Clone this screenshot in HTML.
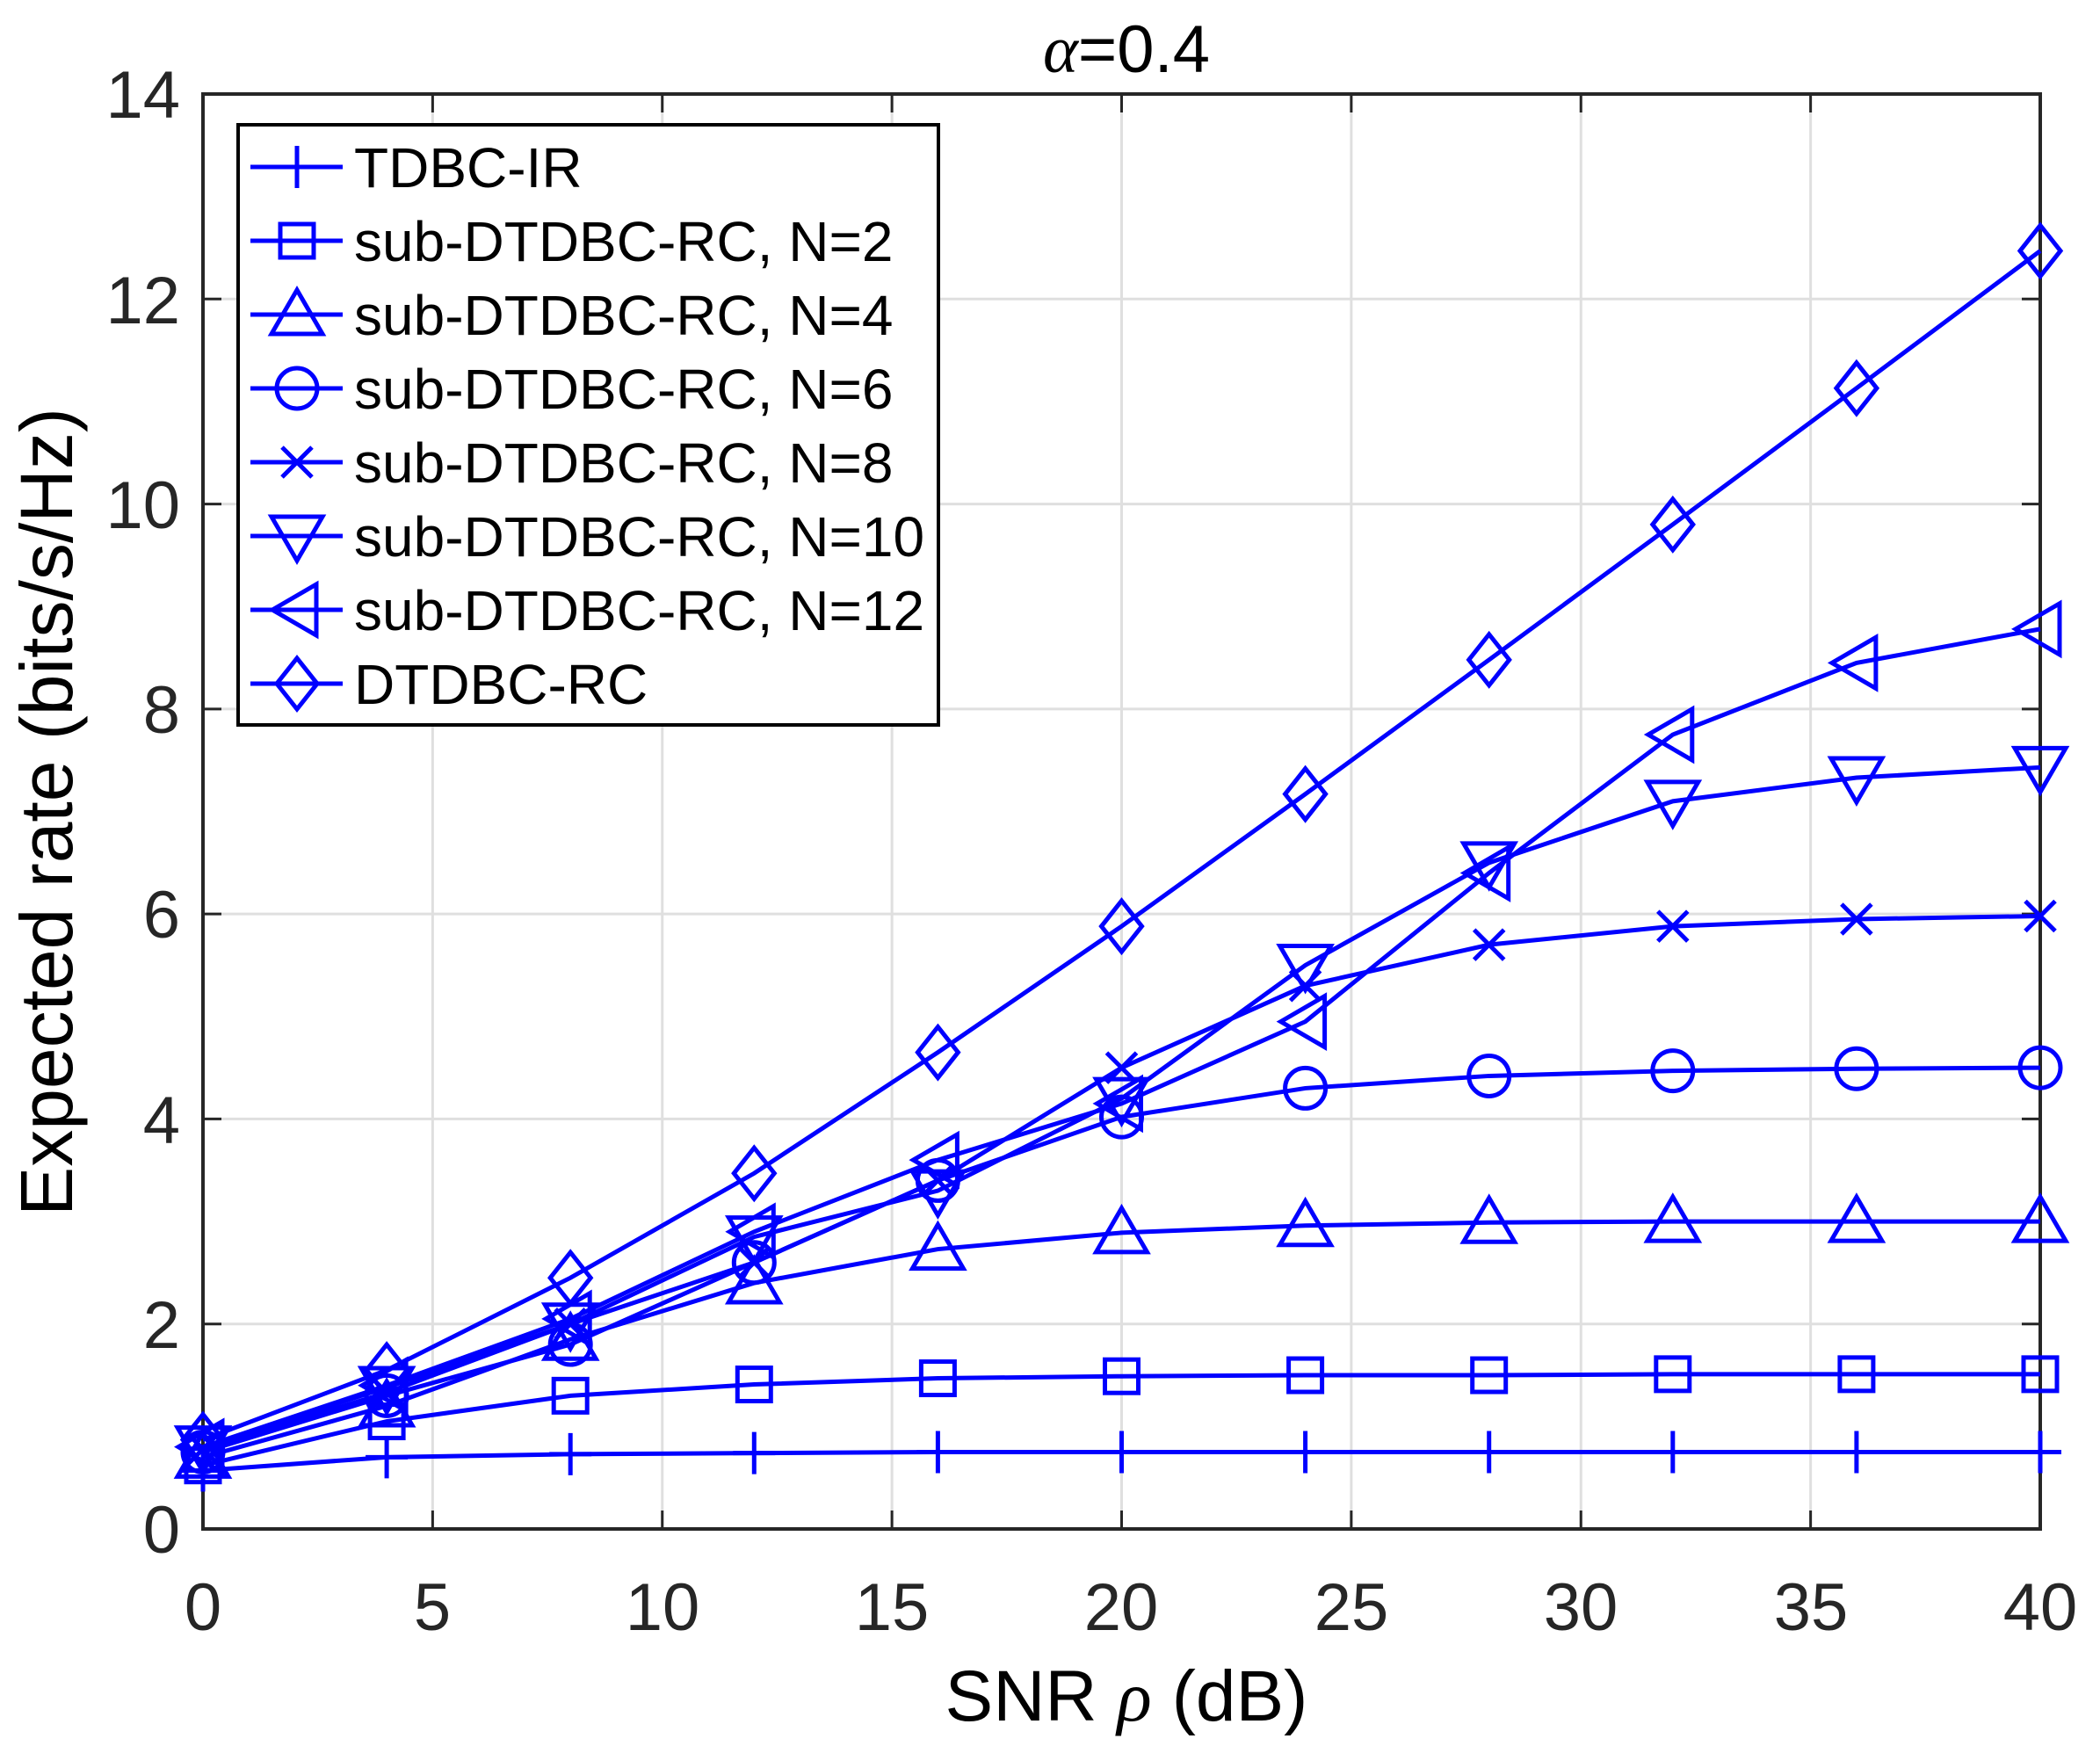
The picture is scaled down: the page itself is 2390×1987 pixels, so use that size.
<!DOCTYPE html>
<html><head><meta charset="utf-8"><style>
html,body{margin:0;padding:0;background:#fff;}
svg{display:block;font-family:"Liberation Sans",sans-serif;}
</style></head><body>
<svg id="s" width="2390" height="1987" viewBox="0 0 2390 1987" xmlns="http://www.w3.org/2000/svg">
<rect width="2390" height="1987" fill="#fff"/>
<g id="grid" stroke="#dfdfdf" stroke-width="3"></g>
<g id="ticks" stroke="#262626" stroke-width="3"></g>
<rect x="231" y="107" width="2091" height="1633" fill="none" stroke="#262626" stroke-width="4"/>
<g id="series" fill="none" stroke="#0000ff" stroke-width="5"></g>
<g font-size="76" fill="#262626" text-anchor="end">
<text x="205" y="1767">0</text><text x="205" y="1534">2</text><text x="205" y="1301">4</text><text x="205" y="1067">6</text><text x="205" y="834">8</text><text x="205" y="601">10</text><text x="205" y="368">12</text><text x="205" y="134">14</text>
</g>
<g font-size="76" fill="#262626" text-anchor="middle">
<text x="231" y="1855">0</text><text x="492" y="1855">5</text><text x="754" y="1855">10</text><text x="1015" y="1855">15</text><text x="1276" y="1855">20</text><text x="1538" y="1855">25</text><text x="1799" y="1855">30</text><text x="2061" y="1855">35</text><text x="2322" y="1855">40</text>
</g>
<text x="1282" y="1958" font-size="82" fill="#000" text-anchor="middle">SNR <tspan font-family="Liberation Serif" font-style="italic">ρ</tspan> (dB)</text>
<text x="1282" y="82" font-size="76" fill="#000" text-anchor="middle"><tspan font-family="Liberation Serif" font-style="italic">α</tspan>=0.4</text>
<text transform="translate(82,924) rotate(-90)" font-size="84" fill="#000" text-anchor="middle">Expected rate (bits/s/Hz)</text>
<rect x="271" y="142" width="797" height="683" fill="#fff" stroke="#000" stroke-width="4"/>
<g id="leg" fill="none" stroke="#0000ff" stroke-width="5"></g>
<g font-size="64" fill="#000">
<text x="403" y="213">TDBC-IR</text>
<text x="403" y="297">sub-DTDBC-RC, N=2</text>
<text x="403" y="381">sub-DTDBC-RC, N=4</text>
<text x="403" y="465">sub-DTDBC-RC, N=6</text>
<text x="403" y="549">sub-DTDBC-RC, N=8</text>
<text x="403" y="633">sub-DTDBC-RC, N=10</text>
<text x="403" y="717">sub-DTDBC-RC, N=12</text>
<text x="403" y="801">DTDBC-RC</text>
</g>
</svg>
<script>
var NS="http://www.w3.org/2000/svg";
function el(p,t,a){var e=document.createElementNS(NS,t);for(var k in a)e.setAttribute(k,a[k]);p.appendChild(e);return e;}
var L=231,R=2322,T=107,B=1740;
function X(v){return L+(R-L)*v/40;} function Y(v){return B-(B-T)*v/14;}
var g=document.getElementById('grid'),tk=document.getElementById('ticks');
for(var i=1;i<8;i++){el(g,'line',{x1:X(i*5),x2:X(i*5),y1:T,y2:B});}
for(var j=1;j<7;j++){el(g,'line',{x1:L,x2:R,y1:Y(j*2),y2:Y(j*2)});}
for(var i=0;i<=8;i++){var x=X(i*5);el(tk,'line',{x1:x,x2:x,y1:B,y2:B-21});el(tk,'line',{x1:x,x2:x,y1:T,y2:T+21});}
for(var j=0;j<=7;j++){var y=Y(j*2);el(tk,'line',{x1:L,x2:L+21,y1:y,y2:y});el(tk,'line',{x1:R,x2:R-21,y1:y,y2:y});}
var data=[
['plus',[0.57,0.7,0.73,0.74,0.75,0.75,0.75,0.75,0.75,0.75,0.75]],
['sq',[0.62,1.05,1.3,1.41,1.47,1.49,1.5,1.5,1.51,1.51,1.51]],
['tri',[0.7,1.2,1.85,2.4,2.73,2.89,2.96,2.99,3.0,3.0,3.0]],
['circ',[0.75,1.3,1.8,2.6,3.4,4.02,4.3,4.42,4.47,4.49,4.5]],
['x',[0.78,1.33,2.0,2.6,3.4,4.5,5.3,5.7,5.88,5.95,5.98]],
['tdown',[0.8,1.38,2.0,2.85,3.3,4.2,5.5,6.5,7.1,7.33,7.43]],
['tleft',[0.8,1.4,2.05,2.9,3.6,4.15,4.95,6.4,7.75,8.45,8.78]],
['dia',[0.87,1.55,2.45,3.47,4.65,5.88,7.17,8.48,9.8,11.13,12.47]]];
function mark(p,t,x,y){
 if(t=='plus'){el(p,'path',{d:'M'+(x-24)+' '+y+'H'+(x+24)+'M'+x+' '+(y-24)+'V'+(y+24)});}
 else if(t=='sq'){el(p,'rect',{x:x-19,y:y-19,width:38,height:38});}
 else if(t=='tri'){el(p,'polygon',{points:(x)+','+(y-28)+' '+(x-29)+','+(y+22)+' '+(x+29)+','+(y+22)});}
 else if(t=='tdown'){el(p,'polygon',{points:(x)+','+(y+28)+' '+(x-29)+','+(y-22)+' '+(x+29)+','+(y-22)});}
 else if(t=='tleft'){el(p,'polygon',{points:(x-28)+','+y+' '+(x+22)+','+(y-29)+' '+(x+22)+','+(y+29)});}
 else if(t=='circ'){el(p,'circle',{cx:x,cy:y,r:23});}
 else if(t=='x'){el(p,'path',{d:'M'+(x-17)+' '+(y-17)+'L'+(x+17)+' '+(y+17)+'M'+(x-17)+' '+(y+17)+'L'+(x+17)+' '+(y-17)});}
 else if(t=='dia'){el(p,'polygon',{points:x+','+(y-29)+' '+(x+23)+','+y+' '+x+','+(y+29)+' '+(x-23)+','+y});}
}
var s=document.getElementById('series'),lg=document.getElementById('leg');
data.forEach(function(d,k){
 var pts=d[1].map(function(v,i){return X(i*4)+','+Y(v);}).join(' ');
 el(s,'polyline',{points:pts});
 d[1].forEach(function(v,i){mark(s,d[0],X(i*4),Y(v));});
 var ly=190+84*k;
 el(lg,'line',{x1:285,x2:390,y1:ly,y2:ly});
 mark(lg,d[0],338,ly);
});
</script>
</body></html>
